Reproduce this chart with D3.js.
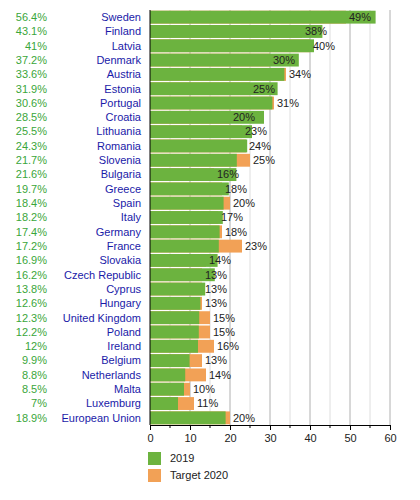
<!DOCTYPE html>
<html><head><meta charset="utf-8">
<script src="https://cdn.jsdelivr.net/npm/d3@7"></script>
<style>body{margin:0;background:#fff}svg{display:block;font-family:"Liberation Sans",Arial,sans-serif}</style>
</head><body><svg id="c" width="420" height="500"></svg>
<script>
const countries = ["Sweden","Finland","Latvia","Denmark","Austria","Estonia","Portugal","Croatia","Lithuania","Romania","Slovenia","Bulgaria","Greece","Spain","Italy","Germany","France","Slovakia","Czech Republic","Cyprus","Hungary","United Kingdom","Poland","Ireland","Belgium","Netherlands","Malta","Luxemburg","European Union"];
const share2019 = [56.4,43.1,41,37.2,33.6,31.9,30.6,28.5,25.5,24.3,21.7,21.6,19.7,18.4,18.2,17.4,17.2,16.9,16.2,13.8,12.6,12.3,12.2,12,9.9,8.8,8.5,7,18.9];
const target2020 = [49,38,40,30,34,25,31,20,23,24,25,16,18,20,17,18,23,14,13,13,13,15,15,16,13,14,10,11,20];
const xTicks = [0,10,20,30,40,50,60];
const minorTicks = [5,15,25,35,45,55];
const legendLabels = ["2019","Target 2020"];

(function(){
const GREEN = "#6cb33f", ORANGE = "#f2a156";
const svg = d3.select("#c");
const x = d3.scaleLinear().domain([0,60]).range([150,390]);
const y = d3.scaleBand().domain(countries).range([10,425]).paddingInner(0.1).paddingOuter(0.05);
const yTop = 10, yBot = 425;

const g = svg.append("g");
g.selectAll("line.minor").data(minorTicks).join("line").attr("class","minor")
  .attr("x1",d=>x(d)).attr("x2",d=>x(d)).attr("y1",yTop).attr("y2",yBot)
  .attr("stroke","#dedede").attr("stroke-width",1);
g.selectAll("line.major").data(xTicks.slice(1)).join("line").attr("class","major")
  .attr("x1",d=>x(d)).attr("x2",d=>x(d)).attr("y1",yTop).attr("y2",yBot)
  .attr("stroke","#b0b0b0").attr("stroke-width",1);

const rows = countries.map((c,i)=>({c, v:share2019[i], t:target2020[i]}));

svg.append("g").selectAll("rect").data(rows).join("rect")
  .attr("x",x(0)).attr("y",d=>y(d.c)).attr("width",d=>x(d.t)-x(0)).attr("height",y.bandwidth())
  .attr("fill",ORANGE);
svg.append("g").selectAll("rect").data(rows).join("rect")
  .attr("x",x(0)).attr("y",d=>y(d.c)).attr("width",d=>x(d.v)-x(0)).attr("height",y.bandwidth())
  .attr("fill",GREEN);

svg.append("g").selectAll("text").data(rows).join("text")
  .attr("x",d=>x(d.t)+3).attr("y",d=>y(d.c)+y.bandwidth()/2).attr("dy","0.35em")
  .attr("font-size",11).attr("fill","#222").text(d=>d.t+"%");

svg.append("g").selectAll("text").data(rows).join("text")
  .attr("x",141).attr("y",d=>y(d.c)+y.bandwidth()/2).attr("dy","0.35em")
  .attr("text-anchor","end").attr("font-size",11).attr("fill","#1a1aa8").text(d=>d.c);

svg.append("g").selectAll("text").data(rows).join("text")
  .attr("x",47).attr("y",d=>y(d.c)+y.bandwidth()/2).attr("dy","0.35em")
  .attr("text-anchor","end").attr("font-size",11).attr("fill","#3aa63a").text(d=>d.v+"%");

svg.append("line").attr("x1",x(0)).attr("x2",x(0)).attr("y1",yTop).attr("y2",yBot).attr("stroke","#000");
const xa = svg.append("g").attr("transform",`translate(0,${yBot})`)
  .call(d3.axisBottom(x).tickValues(xTicks).tickSize(5).tickSizeOuter(0).tickPadding(4).tickFormat(d3.format("d")));
xa.selectAll("text").attr("font-size",11).attr("fill","#222").attr("font-family","Liberation Sans, Arial, sans-serif");
xa.select(".domain").attr("stroke","#000");
xa.selectAll(".tick line").attr("stroke","#000");
svg.append("g").selectAll("line").data(minorTicks).join("line")
  .attr("x1",d=>x(d)).attr("x2",d=>x(d)).attr("y1",yBot).attr("y2",yBot+3).attr("stroke","#000");

const leg = svg.append("g").selectAll("g").data(legendLabels).join("g")
  .attr("transform",(d,i)=>`translate(148,${452+i*17})`);
leg.append("rect").attr("width",13).attr("height",13).attr("fill",(d,i)=>i?ORANGE:GREEN);
leg.append("text").attr("x",22).attr("y",6.5).attr("dy","0.35em").attr("font-size",11).attr("fill","#222").text(d=>d);
})();
</script></body></html>
